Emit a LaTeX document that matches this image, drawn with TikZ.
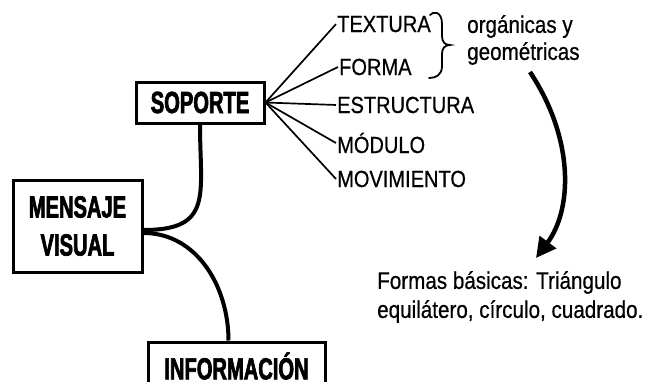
\documentclass[tikz,border=0pt]{standalone}
\usepackage{fontspec}
\usepackage{tikz}
\usetikzlibrary{arrows.meta, positioning}
\newfontfamily\condfont[FakeStretch=0.86, FakeBold=0.6]{Liberation Sans}
\newfontfamily\headfont[FakeStretch=0.66, FakeBold=2.2]{Liberation Sans Bold}
\tikzstyle{block} = [draw, line width=3pt, fill=white, rectangle,
    align=center, font=\headfont\fontsize{30.5}{38}\selectfont]
\tikzstyle{item} = [anchor=base west, inner sep=1pt,
    font=\condfont\fontsize{23.3}{27}\selectfont]
\tikzstyle{note} = [anchor=north west, inner sep=0pt, align=left]
\tikzstyle{stem} = [line width=4pt]
\tikzstyle{leaf} = [line width=1.7pt]

\begin{document}
\begin{tikzpicture}[x=1pt, y=-1pt, >=latex]
    \useasboundingbox (0,0) rectangle (653,381);
    \node [block, minimum width=128pt, minimum height=41pt] (soporte) at (200,102.5) {SOPORTE};
    \node [block, minimum width=129pt, minimum height=92pt] (mensaje) at (77.5,226) {MENSAJE\\VISUAL};
    \node [block, minimum width=177pt, minimum height=48pt] (info) at (236.5,366) {INFORMACIÓN};
    \node [item] (textura) at (336,32) {TEXTURA};
    \node [item] (forma) at (338,75) {FORMA};
    \node [item] (estructura) at (336,113) {ESTRUCTURA};
    \node [item] (modulo) at (336,153) {MÓDULO};
    \node [item] (movim) at (336,187) {MOVIMIENTO};
    \node [note, font=\condfont\fontsize{24}{27}\selectfont] (organicas) at (467,15) {orgánicas y\\geométricas};
    \node [note, font=\condfont\fontsize{24}{29}\selectfont] (formas) at (377,271) {Formas básicas: Triángulo\\equilátero, círculo, cuadrado.};
    \coordinate (arrstart) at (530,72);
    \coordinate (arrend) at (536,258);
    \draw [stem] (soporte.south) to[out=-90, in=0, looseness=1.5] ([yshift=-4pt]mensaje.east);
    \draw [stem] ([yshift=-7pt]mensaje.east) to[out=0, in=90] ([xshift=-8pt]info.north);
    \foreach \leafnode in {textura, forma, estructura, modulo, movim}
        \draw [leaf] (soporte.east) -- (\leafnode.west);
    % brace
    \draw [line width=1.8pt, line cap=round] (430,15) .. controls (433,11) and (442,11) .. (442,24)
        -- (442,36) .. controls (442,42) and (445,45) .. (450,45)
        .. controls (445,45) and (442,48) .. (442,54)
        -- (442,66) .. controls (442,75) and (436,78) .. (429,78);
    \draw [line width=4.5pt, -{Triangle[length=20pt, width=20pt]}] (arrstart) .. controls (575,140) and (572,210) .. (arrend);
\end{tikzpicture}
\end{document}
